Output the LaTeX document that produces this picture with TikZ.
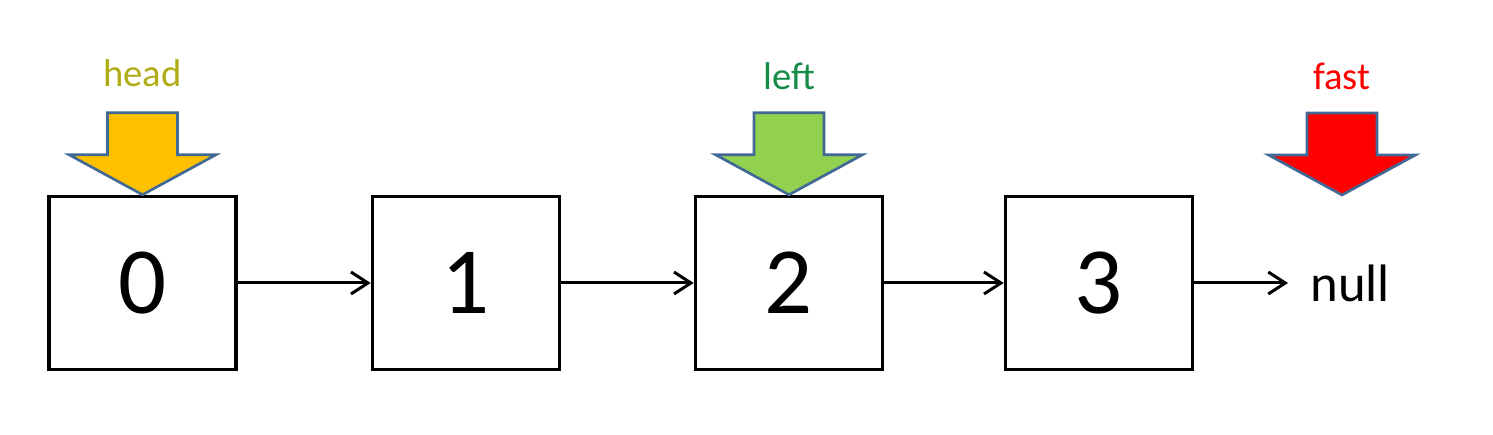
\documentclass[tikz,border=0pt]{standalone}
\usepackage{fontspec}
\setmainfont{Carlito}
\usetikzlibrary{arrows.meta}
\definecolor{headcol}{RGB}{176,172,22}
\definecolor{leftcol}{RGB}{22,140,72}
\definecolor{ptrline}{RGB}{65,105,150}
\definecolor{ptrgold}{RGB}{255,192,0}
\definecolor{ptrgreen}{RGB}{146,208,80}
\tikzset{
  cell/.style={draw,line width=2pt,minimum width=3.74cm,minimum height=3.46cm,inner sep=0pt,font=\fontsize{54}{54}\selectfont},
  link/.style={line width=1.7pt,-{Straight Barb[length=3.4mm,width=4.4mm]}},
  ptr/.style={draw=ptrline,line width=1.5pt,line join=miter},
  tag/.style={anchor=base,inner sep=0pt,font=\fontsize{22}{22}\selectfont}
}
\newcommand{\ptrarrow}[2]{\draw[ptr,fill=#2] (#1) -- ++(-1.47,0.8) -- ++(0.77,0) -- ++(0,0.84) -- ++(1.4,0) -- ++(0,-0.84) -- ++(0.77,0) -- cycle;}

\begin{document}
\begin{tikzpicture}
\useasboundingbox (0,0) rectangle (29.86,8.7);
% list cells
\node[cell] (n0) at (2.85,3.04) {0};
\node[cell] (n1) at (9.32,3.04) {1};
\node[cell] (n2) at (15.78,3.04) {2};
\node[cell] (n3) at (21.98,3.04) {3};
\node[anchor=west,inner xsep=0.44cm,inner ysep=0pt,font=\fontsize{30}{30}\selectfont] (nil) at (25.76,3.04) {null};
% next pointers
\draw[link] (n0) -- (n1);
\draw[link] (n1) -- (n2);
\draw[link] (n2) -- (n3);
\draw[link] (n3) -- (nil);
% head, left, fast
\coordinate (fastpos) at (26.84,4.8);
\ptrarrow{n0.north}{ptrgold}
\ptrarrow{n2.north}{ptrgreen}
\ptrarrow{fastpos}{red}
\node[tag,text=headcol] (headlbl) at (2.85,6.96) {head};
\node[tag,text=leftcol] (leftlbl) at (15.78,6.9) {left};
\node[tag,text=red] (fastlbl) at (26.84,6.9) {fast};
\end{tikzpicture}
\end{document}
